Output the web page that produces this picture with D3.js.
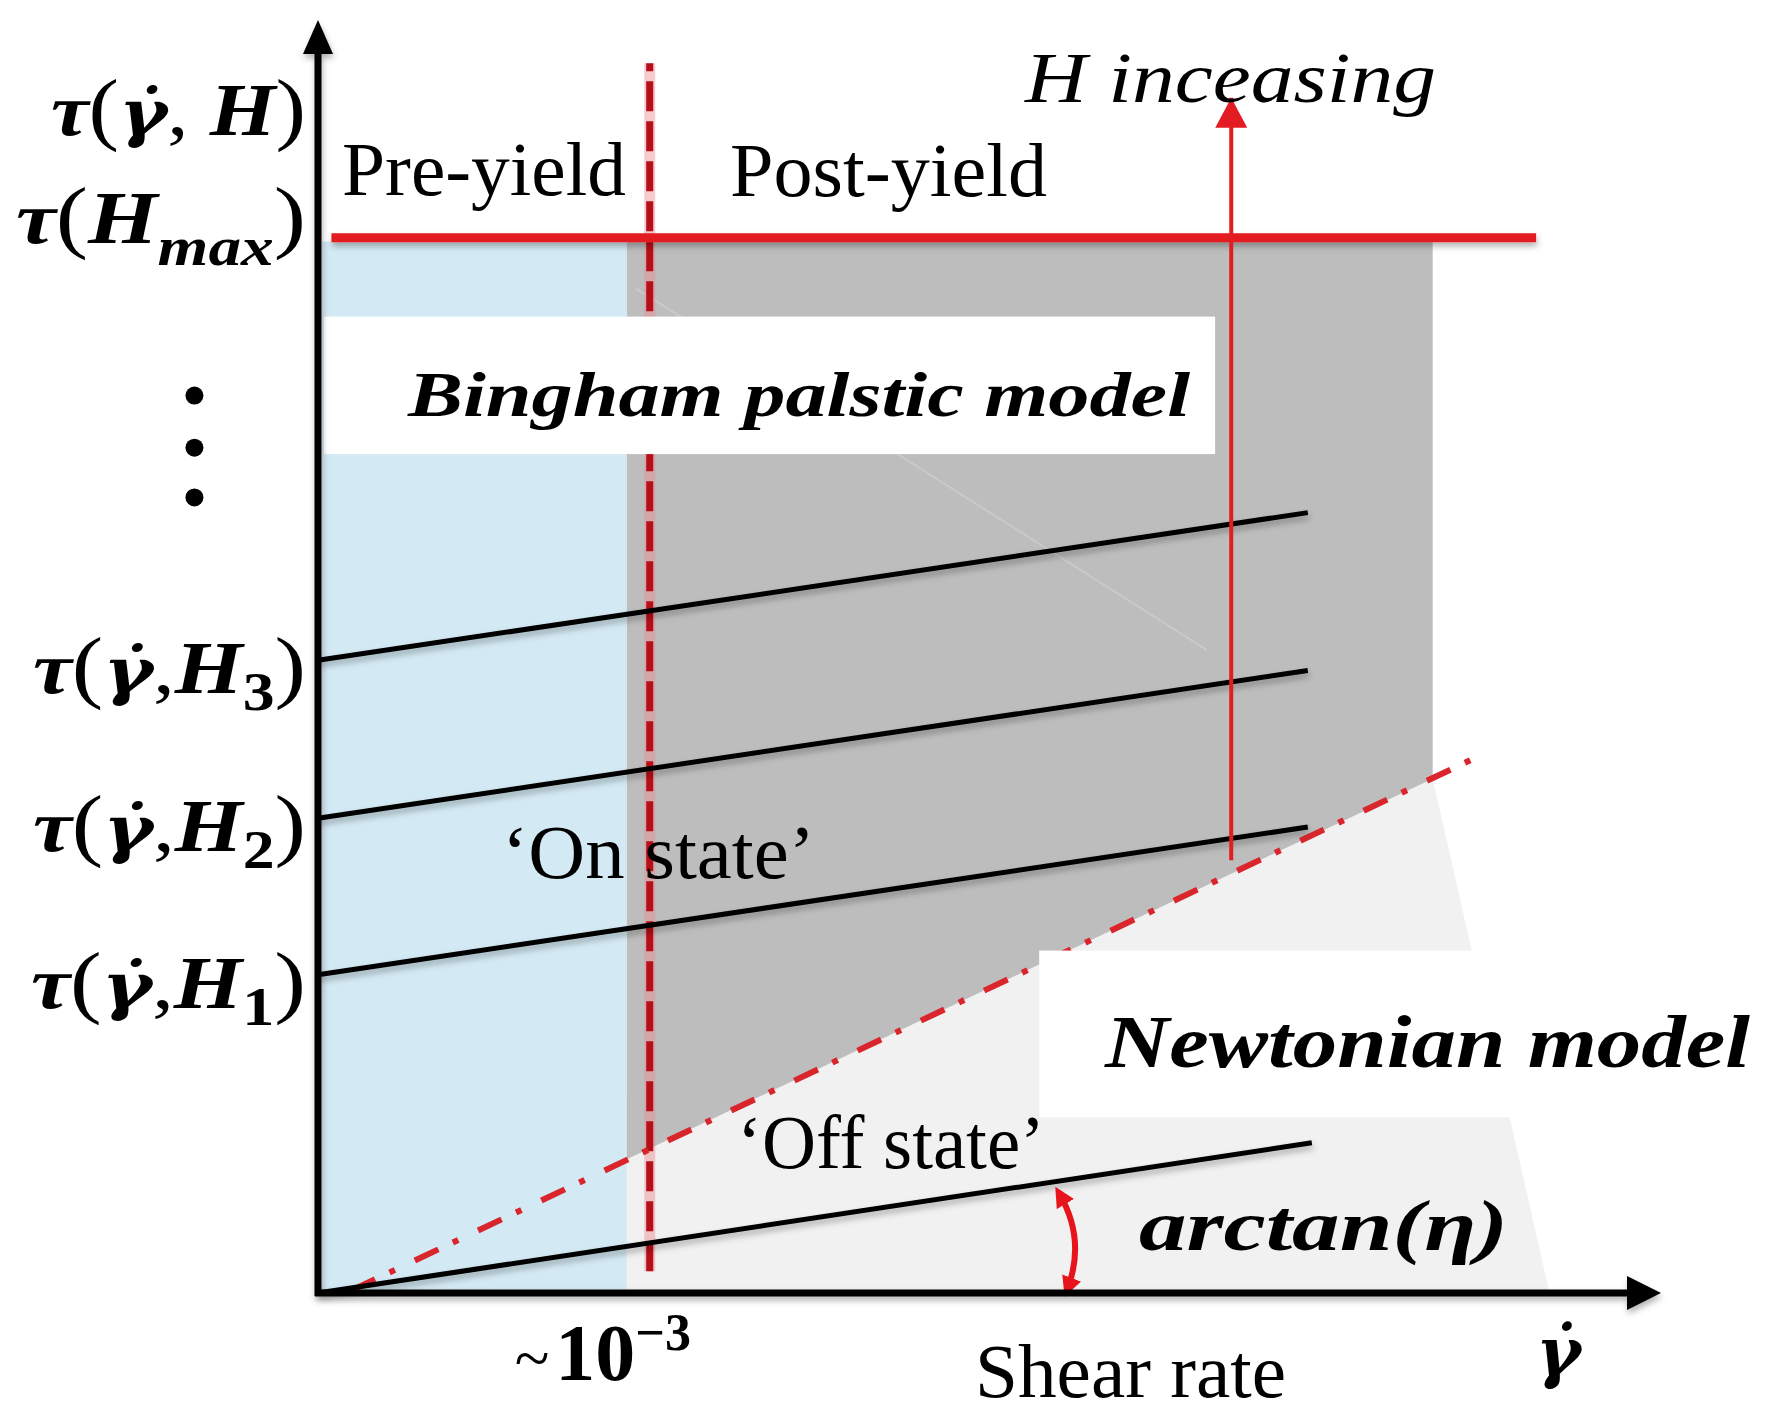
<!DOCTYPE html>
<html><head><meta charset="utf-8">
<script src="https://cdn.jsdelivr.net/npm/d3@7/dist/d3.min.js"></script>
<style>body{margin:0;background:#fff}svg{display:block}</style>
</head><body>
<script>
// ---------------- DATA (conceptual units: shear rate on x, shear stress on y) ----------------
const xDomain = [0, 10];
const yDomain = [0, 10];
const yieldRate = 2.47;                 // "~10^-3" yield shear rate
const tauHmax = 8.29;                   // τ(H_max) level
const curveNames = ["Off", "H1", "H2", "H3"];
const curveStart = [[0, 0.00], [0, 2.50], [0, 3.73], [0, 4.97]];
const curveEnd   = [[7.40, 1.18], [7.37, 3.66], [7.37, 4.89], [7.37, 6.13]];
const newtonBoundary = [[0.25, 0.02], [8.61, 4.20]];          // dash-dot line
const preYieldRegion = [[0.03, 0], [2.30, 0], [2.30, 8.26], [0.03, 8.26]];
const postYieldRegion = [[2.30, 8.26], [8.30, 8.26], [8.30, 4.04], [2.30, 1.05]];
const offStateRegion = [[2.30, 1.05], [8.30, 4.04], [9.17, 0], [2.30, 0]];
const binghamBox = [[0.045, 6.59], [6.68, 7.67]];
const newtonBox = [[5.37, 1.38], [11.0, 2.69]];
const hMaxLine = [[0.10, tauHmax], [9.07, tauHmax]];
const yieldLine = [[yieldRate, 0.17], [yieldRate, 9.66]];
const hArrow = [[6.80, 3.40], [6.80, 9.39]];
const faintLine = [[2.37, 7.89], [6.62, 5.05]];
const ellipsisDots = [7.05, 6.64, 6.25];
const etaArrow = [[5.52, 0.78], [5.72, 0.42], [5.58, 0.03]];
const yTickSubs = ["1", "2", "3"];
const xTickLabel = ["~", "10", "−3"];

// ---------------- LAYOUT ----------------
const W = 1771, H = 1419;
const svg = d3.select("body").append("svg").attr("width", W).attr("height", H);
const x = d3.scaleLinear().domain(xDomain).range([318, 1661]);
const y = d3.scaleLinear().domain(yDomain).range([1293, 20]);
const line = d3.line().x(d => x(d[0])).y(d => y(d[1]));
const poly = pts => line(pts) + "Z";

const defs = svg.append("defs");
const f = defs.append("filter").attr("id", "sh").attr("filterUnits", "userSpaceOnUse")
  .attr("x", 0).attr("y", 0).attr("width", W).attr("height", H);
f.append("feDropShadow").attr("dx", 1).attr("dy", 4).attr("stdDeviation", 3)
  .attr("flood-color", "#000").attr("flood-opacity", 0.3);
defs.append("marker").attr("id", "redHead").attr("viewBox", "0 0 10 10")
  .attr("refX", 6).attr("refY", 5).attr("markerWidth", 20).attr("markerHeight", 20)
  .attr("markerUnits", "userSpaceOnUse").attr("orient", "auto-start-reverse")
  .append("path").attr("d", "M0,0 L10,5 L0,10 Z").attr("fill", "#e8141c");

const RED = "#e31b23", DARKRED = "#b50f19";

// regions
svg.append("path").attr("d", poly(preYieldRegion)).attr("fill", "#d3e9f3");
svg.append("path").attr("d", poly(offStateRegion)).attr("fill", "#f1f1f1");
svg.append("path").attr("d", poly(postYieldRegion)).attr("fill", "#bdbdbd");
svg.append("path").attr("d", line(faintLine)).attr("stroke", "#d2d2d2").attr("stroke-width", 2).attr("fill", "none").attr("opacity", 0.6);

// yield dashed vertical line (pink halo + dark dashes)
svg.append("path").attr("d", line(yieldLine)).attr("stroke", "#f08a8f").attr("stroke-width", 11)
  .attr("opacity", 0.45).attr("fill", "none");
svg.append("path").attr("d", line(yieldLine)).attr("stroke", DARKRED).attr("stroke-width", 7)
  .attr("stroke-dasharray", "30,10").attr("fill", "none");

// Newtonian boundary dash-dot line
svg.append("path").attr("d", line(newtonBoundary)).attr("stroke", "#d9262c").attr("stroke-width", 6)
  .attr("stroke-dasharray", "26,16,6,22").attr("fill", "none");

// white label boxes
[binghamBox, newtonBox].forEach(b => {
  svg.append("rect").attr("x", x(b[0][0])).attr("y", y(b[1][1]))
    .attr("width", x(b[1][0]) - x(b[0][0])).attr("height", y(b[0][1]) - y(b[1][1]))
    .attr("fill", "#fff");
});

// black shear-stress lines
svg.append("g").selectAll("path").data(curveNames).join("path")
  .attr("d", (d, i) => line([curveStart[i], curveEnd[i]]))
  .attr("stroke", "#000").attr("stroke-width", 5).attr("fill", "none").attr("filter", "url(#sh)");

// tau(Hmax) red line
svg.append("path").attr("d", line(hMaxLine)).attr("stroke", RED).attr("stroke-width", 9)
  .attr("fill", "none").attr("filter", "url(#sh)");

// H increasing arrow
svg.append("path").attr("d", line(hArrow)).attr("stroke", RED).attr("stroke-width", 4).attr("fill", "none");
{
  const tx = x(hArrow[1][0]), ty = y(hArrow[1][1]);
  svg.append("path").attr("d", `M${tx},${ty} L${tx - 16},${ty + 30} L${tx + 16},${ty + 30} Z`).attr("fill", RED);
}

// eta curved double arrow
svg.append("path")
  .attr("d", `M${x(etaArrow[0][0])},${y(etaArrow[0][1])} Q${x(etaArrow[1][0])},${y(etaArrow[1][1])} ${x(etaArrow[2][0])},${y(etaArrow[2][1])}`)
  .attr("stroke", "#e8141c").attr("stroke-width", 6).attr("fill", "none")
  .attr("marker-start", "url(#redHead)").attr("marker-end", "url(#redHead)");

// axes
const ax = svg.append("g").attr("filter", "url(#sh)");
ax.append("line").attr("x1", x(0)).attr("x2", x(0)).attr("y1", y(0) + 3).attr("y2", y(yDomain[1]) + 28)
  .attr("stroke", "#000").attr("stroke-width", 7);
ax.append("line").attr("x1", x(0) - 3).attr("x2", x(xDomain[1]) - 30).attr("y1", y(0)).attr("y2", y(0))
  .attr("stroke", "#000").attr("stroke-width", 7);
{
  const tx = x(0), ty = y(yDomain[1]);
  ax.append("path").attr("d", `M${tx},${ty} L${tx - 15},${ty + 34} L${tx + 15},${ty + 34} Z`).attr("fill", "#000");
  const rx = x(xDomain[1]), ry = y(0);
  ax.append("path").attr("d", `M${rx},${ry} L${rx - 34},${ry - 17} L${rx - 34},${ry + 17} Z`).attr("fill", "#000");
}

// ellipsis dots
svg.append("g").selectAll("circle").data(ellipsisDots).join("circle")
  .attr("cx", x(-0.92)).attr("cy", d => y(d)).attr("r", 9).attr("fill", "#000");

// ---------------- TEXT ----------------
const SERIF = "'Liberation Serif','Times New Roman',serif";
const DJ = "'DejaVu Serif',serif";
function txt(str, px, py, o) {
  const t = svg.append("text").attr("x", px).attr("y", py).text(str)
    .attr("font-family", SERIF).attr("font-size", o.size).attr("fill", "#000");
  if (o.italic) t.attr("font-style", "italic");
  if (o.bold) t.attr("font-weight", "bold");
  if (o.len) t.attr("textLength", o.len).attr("lengthAdjust", "spacingAndGlyphs");
  return t;
}
txt("Pre-yield", 342, 195, {size: 76, len: 284});
txt("Post-yield", 730, 196, {size: 76, len: 317});
txt("\u2018On state\u2019", 502, 878, {size: 76, len: 313});
txt("\u2018Off state\u2019", 737, 1168, {size: 76, len: 308});
txt("Shear rate", 975, 1397, {size: 76, len: 311});
txt("H inceasing", 1025, 102, {size: 72, italic: true, len: 411});
txt("Bingham palstic model", 408, 416, {size: 64, italic: true, bold: true, len: 782});
txt("Newtonian model", 1105, 1067, {size: 74, italic: true, bold: true, len: 645});
txt("arctan(\u03b7)", 1139, 1250, {size: 72, italic: true, bold: true, len: 369});

// math labels on the y axis
function mathLabel(parts, baseline, len) {
  const t = svg.append("text").attr("x", 306).attr("y", baseline).attr("text-anchor", "end")
    .attr("font-family", SERIF).attr("fill", "#000");
  parts.forEach(p => {
    const s = t.append("tspan").text(p.t)
      .attr("font-size", p.size || 74)
      .attr("font-style", p.up ? "normal" : "italic")
      .attr("font-weight", p.thin ? "normal" : "bold");
    if (p.font) s.attr("font-family", p.font);
    if (p.dy) s.attr("dy", p.dy);
    if (p.dx) s.attr("dx", p.dx);
  });
  if (len) t.attr("textLength", len).attr("lengthAdjust", "spacingAndGlyphs");
  return t;
}
const P = (t, o = {}) => Object.assign({t}, o);
const GDOT = P("\u03b3\u0307", {font: DJ, size: 64});   // γ̇ composed with its combining dot
mathLabel([P("τ"), P("(", {up: 1, thin: 1, size: 80}), GDOT, P(", ", {up: 1, thin: 1}), P("H"), P(")", {up: 1, thin: 1, size: 80})], 135, 255);
mathLabel([P("τ"), P("(", {up: 1, thin: 1, size: 80}), P("H"), P("max", {size: 54, dy: 22}), P(")", {up: 1, thin: 1, size: 80, dy: -22})], y(tauHmax) + 5, 290);
yTickSubs.forEach((sub, i) => {
  mathLabel([P("τ"), P("(", {up: 1, thin: 1, size: 80}), GDOT, P(",", {up: 1, thin: 1}), P("H"),
             P(sub, {up: 1, size: 54, dy: 17}), P(")", {up: 1, thin: 1, size: 80, dy: -17})],
            y(curveStart[i + 1][1]) + 33, i === 0 ? 275 : 273);
});

// x tick label ~10^-3 at the yield shear rate
{
  const t = svg.append("text").attr("x", x(yieldRate) - 135).attr("y", 1380).attr("font-family", SERIF).attr("fill", "#000");
  t.append("tspan").text(xTickLabel[0]).attr("font-size", 64);
  t.append("tspan").text(xTickLabel[1]).attr("font-size", 80).attr("font-weight", "bold").attr("dx", 6);
  t.append("tspan").text(xTickLabel[2]).attr("font-size", 52).attr("font-weight", "bold").attr("dy", -30);
}
// x axis symbol γ̇
svg.append("text").attr("x", 1536).attr("y", 1375).attr("font-family", DJ)
  .attr("font-size", 68).attr("font-style", "italic").attr("font-weight", "bold").attr("fill", "#000")
  .text("\u03b3\u0307");
</script>
</body></html>
